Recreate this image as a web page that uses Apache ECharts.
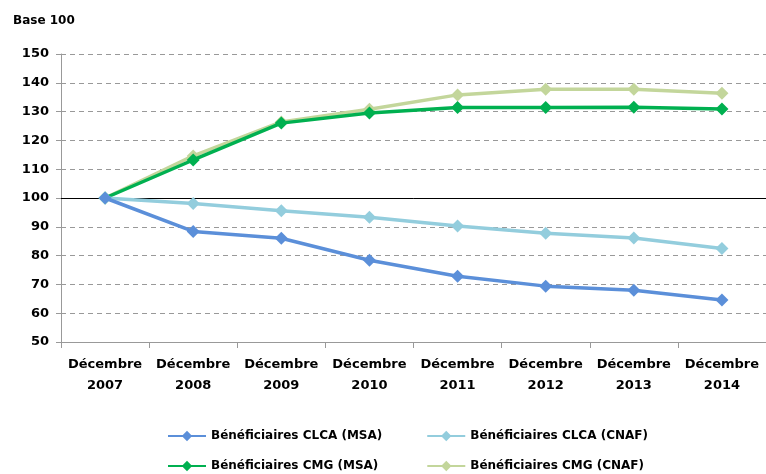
<!DOCTYPE html>
<html>
<head>
<meta charset="utf-8">
<script src="https://cdn.jsdelivr.net/npm/echarts@6/dist/echarts.min.js"></script>
<style>
  html, body { margin: 0; padding: 0; background: #fff; }
  #canvas { width: 766px; height: 474px; }
</style>
</head>
<body>
<div id="canvas"></div>
<script>
var years = ['Décembre\n2007', 'Décembre\n2008', 'Décembre\n2009', 'Décembre\n2010',
             'Décembre\n2011', 'Décembre\n2012', 'Décembre\n2013', 'Décembre\n2014'];
var clca_msa  = [100, 88.4, 86.0, 78.4, 72.8, 69.4, 68.0, 64.6];
var clca_cnaf = [100, 98.1, 95.6, 93.3, 90.3, 87.8, 86.1, 82.5];
var cmg_msa   = [100, 113.2, 126.0, 129.5, 131.4, 131.4, 131.5, 130.9];
var cmg_cnaf  = [100, 114.6, 126.4, 130.8, 135.8, 137.8, 137.8, 136.4];

var names = ['Bénéficiaires CLCA (MSA)', 'Bénéficiaires CLCA (CNAF)',
             'Bénéficiaires CMG (MSA)', 'Bénéficiaires CMG (CNAF)'];
var colors = ['#5b8fd9', '#93cddd', '#00b050', '#c3d69b'];

var font = 'DejaVu Sans';
var myChart = echarts.init(document.getElementById('canvas'));

var make_series = function(i, values) {
    var s = {
        name: names[i],
        type: 'line',
        data: values,
        symbol: 'diamond',
        symbolSize: 13,
        z: 10 - i,
        lineStyle: {width: 3.5, color: colors[i]},
        itemStyle: {color: colors[i]},
        emphasis: {disabled: true}
    };
    return s;
}

var series = [
    make_series(0, clca_msa),
    make_series(1, clca_cnaf),
    make_series(2, cmg_msa),
    make_series(3, cmg_cnaf)
];
// ligne de base 100
series[0].markLine = {
    silent: true,
    symbol: 'none',
    label: {show: false},
    lineStyle: {color: '#000', type: 'solid', width: 1},
    data: [{yAxis: 100}]
};

var legend_text = {fontFamily: font, fontWeight: 'bold', fontSize: 12, color: '#000'};

var option = {
    animation: false,
    title: {
        text: 'Base 100',
        left: 8, top: 10,
        textStyle: {fontFamily: font, fontWeight: 'bold', fontSize: 12, color: '#000'}
    },
    legend: [{
        data: [names[0], names[1]],
        left: 162, top: 425,
        itemWidth: 38, itemHeight: 13, itemGap: 44,
        textStyle: legend_text
    }, {
        data: [names[2], names[3]],
        left: 162, top: 455,
        itemWidth: 38, itemHeight: 13, itemGap: 48,
        textStyle: legend_text
    }],
    grid: {left: 61, right: 0, top: 54, bottom: 132},
    xAxis: {
        type: 'category',
        data: years,
        boundaryGap: true,
        axisLine: {lineStyle: {color: '#999', width: 1}},
        axisTick: {show: true, length: 6, lineStyle: {color: '#999'}},
        axisLabel: {
            fontFamily: font, fontWeight: 'bold', fontSize: 13, color: '#000',
            lineHeight: 21, margin: 12, interval: 0
        }
    },
    yAxis: {
        type: 'value',
        min: 50, max: 150, interval: 10,
        axisLine: {show: true, lineStyle: {color: '#999', width: 1}},
        axisTick: {show: true, length: 5, lineStyle: {color: '#999'}},
        axisLabel: {fontFamily: font, fontWeight: 'bold', fontSize: 13, color: '#000', margin: 12},
        splitLine: {lineStyle: {color: '#999', type: [5, 4], width: 1}}
    },
    series: series
};
myChart.setOption(option);
</script>
</body>
</html>
